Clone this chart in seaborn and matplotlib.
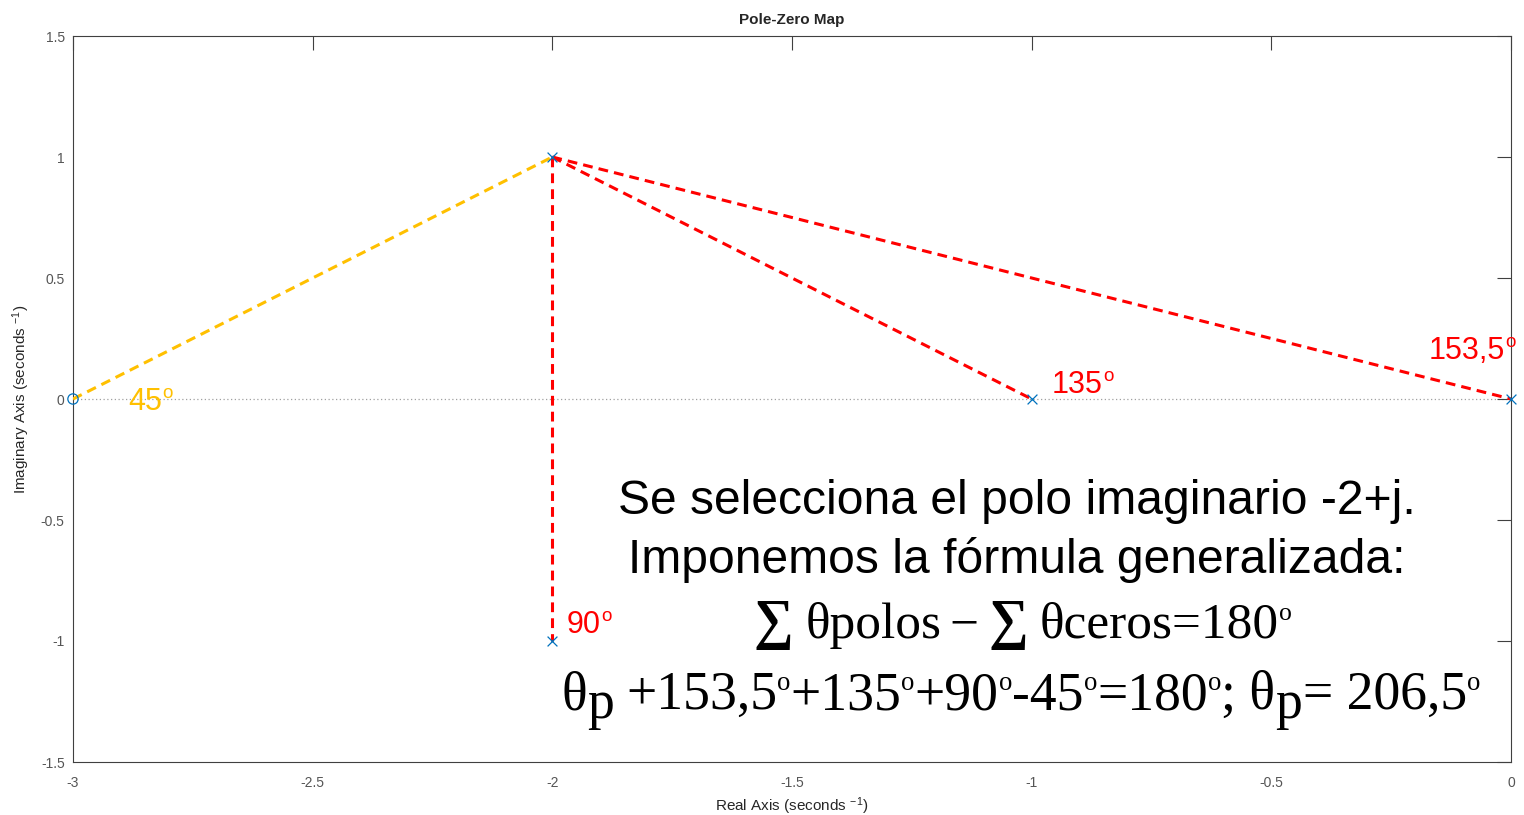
import matplotlib
matplotlib.use("Agg")
import numpy as np
import pandas as pd
import seaborn as sns
import matplotlib.pyplot as plt

# ---------------- data ----------------
poles_re = [-2, -2, -1, 0]
poles_im = [1, -1, 0, 0]
zeros_re = [-3]
zeros_im = [0]
sel_re, sel_im = -2, 1          # selected pole -2+j

angle_texts = ["45º", "90º", "135º", "153,5º"]
x_ticks = [-3, -2.5, -2, -1.5, -1, -0.5, 0]
x_ticklabels = ["-3", "-2.5", "-2", "-1.5", "-1", "-0.5", "0"]
y_ticks = [-1.5, -1, -0.5, 0, 0.5, 1, 1.5]
y_ticklabels = ["-1.5", "-1", "-0.5", "0", "0.5", "1", "1.5"]

line1 = "Se selecciona el polo imaginario -2+j."
line2 = "Imponemos la fórmula generalizada:"
line4 = "θp+153,5º+135º+90º-45º=180º; θp= 206,5º"

BLUE = "#0072BD"
RED = "#FF0000"
ORANGE = "#FFC000"
AXC = "#404040"

# ---------------- style ----------------
sns.set_style("white")
plt.rcParams["font.family"] = ["Liberation Sans", "DejaVu Sans"]
plt.rcParams["mathtext.fontset"] = "custom"
plt.rcParams["mathtext.rm"] = "Liberation Sans"
plt.rcParams["mathtext.it"] = "Liberation Sans:italic"
plt.rcParams["mathtext.bf"] = "Liberation Sans:bold"

W, H = 1524, 815
fig = plt.figure(figsize=(W / 100, H / 100), dpi=100)
ax = fig.add_axes([73 / W, (H - 762) / H, (1511 - 73) / W, (762 - 36) / H])

# zero line
ax.axhline(0, color="#a0a0a0", ls=(0, (1, 2)), lw=0.9, zorder=0)

# dashed lines from the selected pole
dash = (0, (3.2, 2.0))
sns.lineplot(x=[zeros_re[0], sel_re], y=[zeros_im[0], sel_im], color=ORANGE,
             linewidth=2.2, linestyle=dash, sort=False, estimator=None, ax=ax, zorder=3)
for pr, pi in zip(poles_re, poles_im):
    if (pr, pi) == (sel_re, sel_im):
        continue
    sns.lineplot(x=[sel_re, pr], y=[sel_im, pi], color=RED, linewidth=2.2,
                 linestyle=dash, sort=False, estimator=None, ax=ax, zorder=3)

# markers
sns.scatterplot(x=poles_re, y=poles_im, marker="x", color=BLUE, s=50,
                linewidth=0.9, ax=ax, zorder=5, clip_on=False)
sns.scatterplot(x=zeros_re, y=zeros_im, marker="o", color=BLUE, s=55,
                linewidth=0.9, ax=ax, zorder=5, clip_on=False)
coll = ax.collections[-1]
coll.set_facecolor("none")
coll.set_edgecolor(BLUE)

ax.set_xlim(-3, 0)
ax.set_ylim(-1.5, 1.5)
ax.set_xticks(x_ticks)
ax.set_xticklabels(x_ticklabels)
ax.set_yticks(y_ticks)
ax.set_yticklabels(y_ticklabels)
ax.tick_params(direction="in", length=10, width=0.8, color=AXC,
               labelcolor="#555555", labelsize=10, top=True, right=True)
ax.tick_params(axis="x", pad=10)
ax.tick_params(axis="y", pad=6)
for s in ax.spines.values():
    s.set_color(AXC)
    s.set_linewidth(0.8)

ax.set_title("Pole-Zero Map", fontsize=11, fontweight="bold", pad=9)
ax.set_xlabel("Real Axis (seconds $^{-1}$)", fontsize=11, labelpad=4)
ax.set_ylabel("Imaginary Axis (seconds $^{-1}$)", fontsize=11, labelpad=6)

# ---------------- rich text helper ----------------
renderer = fig.canvas.get_renderer()


def tokenize(s, fs, props, sup_scale, sup_raise, sub_drop=0, sub_gap=0):
    """Split text into pieces: 'º' -> raised small 'o', 'θp' -> lowered p."""
    pieces = []
    buf = ""
    gap_next = 0
    i = 0
    while i < len(s):
        ch = s[i]
        if ch == "º":
            if buf:
                pieces.append((buf, fs, 0, gap_next, props)); gap_next = 0
                buf = ""
            pieces.append(("o", fs * sup_scale, sup_raise * fs * 100 / 72, 0, props))
        elif ch == "p" and sub_drop and i > 0 and s[i - 1] == "θ":
            if buf:
                pieces.append((buf, fs, 0, gap_next, props)); gap_next = 0
                buf = ""
            pieces.append(("p", fs, -sub_drop, 0, props))
            gap_next = sub_gap if (i + 1 < len(s) and s[i + 1] == "+") else 1
        else:
            buf += ch
        i += 1
    if buf:
        pieces.append((buf, fs, 0, gap_next, props))
    return pieces


def rich_text(pieces, x, y, ha="left"):
    arts, widths = [], []
    for txt, fs, dy, gap, props in pieces:
        t = fig.text(0, 0, txt, fontsize=fs, transform=fig.dpi_scale_trans,
                     va="baseline", ha="left", **props)
        widths.append(t.get_window_extent(renderer).width)
        arts.append(t)
    total = sum(w + p[3] for w, p in zip(widths, pieces))
    cur = x - total / 2 if ha == "center" else x
    for t, w, p in zip(arts, widths, pieces):
        cur += p[3]
        t.set_position((cur / 100, (H - y + p[2]) / 100))
        cur += w


SANS = {"family": ["Liberation Sans", "DejaVu Sans"]}
lab_pos = [(128, 410, ORANGE), (567, 633, RED), (1052, 393, RED), (1429, 359, RED)]
for txt, (lx, ly, c) in zip(angle_texts, lab_pos):
    rich_text(tokenize(txt, 22, dict(SANS, color=c), 0.62, 0.39), lx, ly)

BIG = {"family": ["Liberation Sans Narrow", "Liberation Sans"], "color": "black"}
fig.text(1017 / 100, (H - 514) / 100, line1, fontsize=34.6, ha="center",
         va="baseline", transform=fig.dpi_scale_trans, **BIG)
fig.text(1017 / 100, (H - 573) / 100, line2, fontsize=34.6, ha="center",
         va="baseline", transform=fig.dpi_scale_trans, **BIG)

SERIF = {"family": ["Liberation Serif", "DejaVu Serif"], "color": "black"}
SERIFB = dict(SERIF, weight="bold")
line3_pieces = [("∑", 40, 0, 0, SERIFB), ("θpolos", 37, 0, 12, SERIF),
                ("−", 37, 0, 8, SERIF), ("∑", 40, 0, 10, SERIFB),
                ("θceros=180", 37, 0, 12, SERIF),
                ("o", 37 * 0.5, 0.36 * 37 * 100 / 72, 0, SERIF)]
rich_text(line3_pieces, 1023, 638, ha="center")

rich_text(tokenize(line4, 38.6, SERIF, 0.5, 0.36, sub_drop=9, sub_gap=12),
          1021, 709, ha="center")

fig.savefig("out.png", dpi=100)
